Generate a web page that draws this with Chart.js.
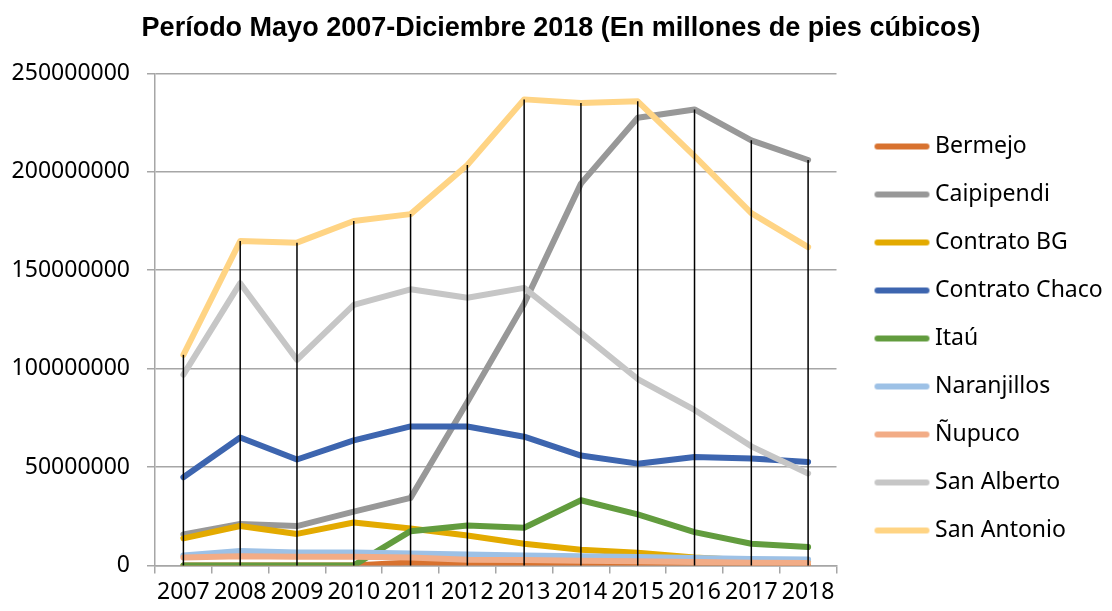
<!DOCTYPE html>
<html>
<head>
<meta charset="utf-8">
<script src="https://cdn.jsdelivr.net/npm/chart.js@4.4.0/dist/chart.umd.min.js"></script>
<style>
  body { margin: 0; background: #fff; }
  #wrap { width: 1112px; height: 611px; }
</style>
</head>
<body>
<div id="wrap"><canvas id="gasChart"></canvas></div>
<script>
    // Years and production per field
    const years = ['2007','2008','2009','2010','2011','2012','2013','2014','2015','2016','2017','2018'];
    const yTicks = [0, 50000000, 100000000, 150000000, 200000000, 250000000];

    const bermejo = [0, 0, 0, 0, 1500000, 1000000, 700000, 300000, 200000, 100000, 50000, 0];
    const caipipendi = [15700000, 21000000, 20000000, 27300000, 34300000, 83000000, 133000000, 194000000, 227500000, 231700000, 216000000, 206000000];
    const contratoBG = [13700000, 20000000, 16000000, 21800000, 18800000, 15200000, 11000000, 8000000, 6400000, 4000000, 2500000, 1800000];
    const contratoChaco = [44800000, 65000000, 53800000, 63500000, 70600000, 70600000, 65400000, 55800000, 51700000, 55100000, 54300000, 52600000];
    const itau = [0, 0, 0, 0, 17400000, 20300000, 19100000, 33100000, 25900000, 16900000, 11000000, 9300000];
    const naranjillos = [5000000, 7300000, 6500000, 6500000, 6000000, 5500000, 5000000, 4600000, 4300000, 3800000, 3300000, 3000000];
    const nupuco = [4000000, 4700000, 4400000, 4400000, 4000000, 2900000, 2800000, 2400000, 2100000, 1700000, 1400000, 1200000];
    const sanAlberto = [96900000, 143400000, 104500000, 132400000, 140300000, 136000000, 141000000, 118000000, 94700000, 79000000, 60500000, 46700000];
    const sanAntonio = [107000000, 164800000, 164000000, 175000000, 178500000, 203500000, 236800000, 235000000, 235800000, 208000000, 179000000, 161700000];

    const series = [
      { label: 'Bermejo', data: bermejo, color: '#D8722F' },
      { label: 'Caipipendi', data: caipipendi, color: '#989898' },
      { label: 'Contrato BG', data: contratoBG, color: '#E3AA00' },
      { label: 'Contrato Chaco', data: contratoChaco, color: '#3D65AF' },
      { label: 'Itaú', data: itau, color: '#629C3E' },
      { label: 'Naranjillos', data: naranjillos, color: '#9DC1E6' },
      { label: 'Ñupuco', data: nupuco, color: '#F2AC86' },
      { label: 'San Alberto', data: sanAlberto, color: '#C6C6C6' },
      { label: 'San Antonio', data: sanAntonio, color: '#FFD484' }
    ];

    // little line sample for the legend, shifted right so it sits close to the text
    function swatch(color) {
      const c = document.createElement('canvas');
      c.width = 76;
      c.height = 8;
      const g = c.getContext('2d');
      g.strokeStyle = color;
      g.lineWidth = 6;
      g.lineCap = 'round';
      g.beginPath();
      g.moveTo(23, 4);
      g.lineTo(72, 4);
      g.stroke();
      return c;
    }

    // vertical drop lines from the highest point down to the axis
    const dropLines = {
      id: 'dropLines',
      afterDatasetsDraw(chart) {
        const { ctx, scales: { x, y } } = chart;
        ctx.save();
        ctx.strokeStyle = '#000';
        ctx.lineWidth = 1.5;
        years.forEach((yr, i) => {
          const top = Math.max(...chart.data.datasets.map(d => d.data[i]));
          const px = x.getPixelForValue(i);
          ctx.beginPath();
          ctx.moveTo(px, y.getPixelForValue(top));
          ctx.lineTo(px, y.getPixelForValue(0));
          ctx.stroke();
        });
        ctx.restore();
      }
    };

    const ctx = document.getElementById('gasChart').getContext('2d');
    new Chart(ctx, {
      type: 'line',
      data: {
        labels: years,
        datasets: series.map((s, i) => ({
          label: s.label,
          data: s.data,
          borderColor: s.color,
          backgroundColor: s.color,
          borderWidth: 6,
          borderCapStyle: 'round',
          borderJoinStyle: 'round',
          pointRadius: 0,
          pointStyle: swatch(s.color),
          tension: 0,
          order: series.length - i
        }))
      },
      options: {
        responsive: true,
        maintainAspectRatio: false,
        animation: false,
        layout: { padding: { left: 10, right: 0, top: 0, bottom: 0 } },
        plugins: {
          title: {
            display: true,
            text: 'Período Mayo 2007-Diciembre 2018 (En millones de pies cúbicos)',
            color: '#000',
            font: { family: 'Liberation Sans', size: 27, weight: 'bold' },
            padding: { top: 12, bottom: 29 }
          },
          legend: {
            position: 'right',
            align: 'start',
            // empty title only used as a spacer above the items
            title: { display: true, text: ' ', font: { size: 20 }, padding: { top: 0, bottom: 86 } },
            labels: {
              usePointStyle: true,
              pointStyleWidth: 62,
              padding: 25,
              color: '#000',
              font: { family: 'Noto Sans', size: 23 },
              sort: (a, b) => a.datasetIndex - b.datasetIndex
            }
          },
          tooltip: { enabled: false }
        },
        scales: {
          x: {
            offset: true,
            grid: { offset: true, drawOnChartArea: false, color: '#a6a6a6', tickLength: 8, lineWidth: 1.5 },
            border: { color: '#a6a6a6', width: 1.5 },
            ticks: { color: '#000', padding: 5, maxRotation: 0, autoSkip: false, font: { family: 'Noto Sans', size: 23 } }
          },
          y: {
            min: 0,
            max: 250000000,
            afterBuildTicks: axis => { axis.ticks = yTicks.map(v => ({ value: v })); },
            afterFit: axis => { axis.width = 145; },
            grid: { color: '#a6a6a6', tickLength: 8, lineWidth: 1.5 },
            border: { color: '#a6a6a6', width: 1.5 },
            ticks: { color: '#000', padding: 17, callback: v => String(v), font: { family: 'Noto Sans', size: 23 } }
          }
        }
      },
      plugins: [dropLines]
    });
</script>
</body>
</html>
